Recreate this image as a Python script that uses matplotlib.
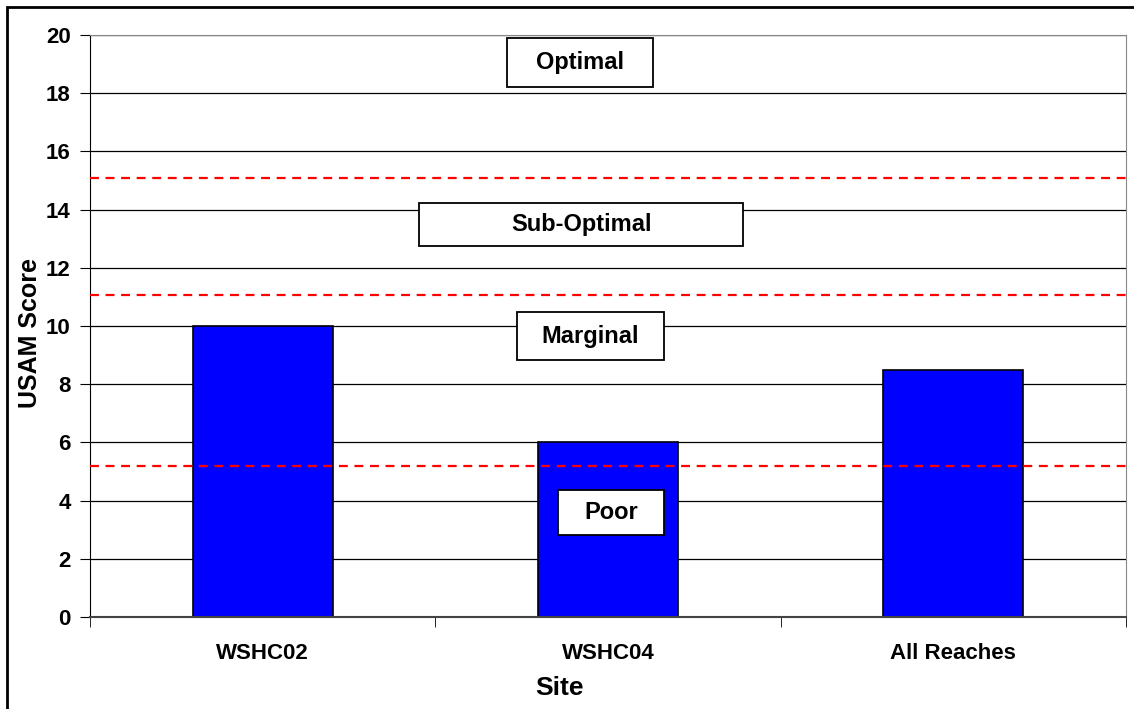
import numpy as np
import matplotlib.pyplot as plt
from matplotlib.patches import Rectangle

plt.rcParams['font.family'] = ['Liberation Sans', 'DejaVu Sans']
plt.rcParams['font.weight'] = 'bold'

sites = ['WSHC02', 'WSHC04', 'All Reaches']
scores = [10.0, 6.0, 8.5]
thresholds = [15.1, 11.05, 5.2]
classes = ['Optimal', 'Sub-Optimal', 'Marginal', 'Poor']
# label boxes: (x0, x1, y0, y1) in data units
class_boxes = [(0.708, 1.130, 18.21, 19.9),
               (0.453, 1.391, 12.75, 14.23),
               (0.737, 1.162, 8.83, 10.48),
               (0.855, 1.162, 2.82, 4.36)]

W, H = 1134, 709
fig = plt.figure(figsize=(W / 100, H / 100), dpi=100)
ax = fig.add_axes([90 / W, 1 - 617 / H, (1126 - 90) / W, (617 - 35) / H])

x = np.arange(len(sites))
ax.set_axisbelow(True)
ax.yaxis.grid(True, color='black', linewidth=0.9)
ax.bar(x, scores, width=0.405, color='#0000ff', edgecolor='black', linewidth=1.2, zorder=2)

for t in thresholds:
    ax.axhline(t, color='red', linestyle=(0, (4, 3)), linewidth=1.6, zorder=3)

for name, (x0, x1, y0, y1) in zip(classes, class_boxes):
    ax.add_patch(Rectangle((x0, y0), x1 - x0, y1 - y0, facecolor='white',
                           edgecolor='black', linewidth=1.3, zorder=4))
    ax.text((x0 + x1) / 2, (y0 + y1) / 2, name, ha='center', va='center',
            fontsize=17, fontweight='bold', zorder=5)

ax.set_xlim(-0.5, 2.5)
ax.set_ylim(0, 20)
ax.set_yticks(range(0, 21, 2))
ax.set_xticks(x)
ax.set_xticklabels(sites)
ax.set_xticks([-0.5, 0.5, 1.5, 2.5], minor=True)
ax.tick_params(axis='x', which='major', length=0, pad=19, labelsize=16)
ax.tick_params(axis='x', which='minor', length=7, direction='out')
ax.tick_params(axis='y', length=7, direction='out', labelsize=16, pad=7)

for side in ['top', 'right']:
    ax.spines[side].set_color('#888888')
ax.spines['bottom'].set_color('#444444')
ax.spines['bottom'].set_linewidth(1.5)

fig.text(559 / W, 1 - 688 / H, 'Site', fontsize=19, fontweight='bold', ha='center', va='center')
fig.text(30 / W, 1 - 333 / H, 'USAM Score', fontsize=18, fontweight='bold',
         ha='center', va='center', rotation=90)

fig.add_artist(Rectangle((7 / W, -0.1), 1.2, 1 - 7 / H + 0.1, transform=fig.transFigure,
                         facecolor='none', edgecolor='black', linewidth=2, clip_on=False))

fig.savefig('out.png', dpi=100)
